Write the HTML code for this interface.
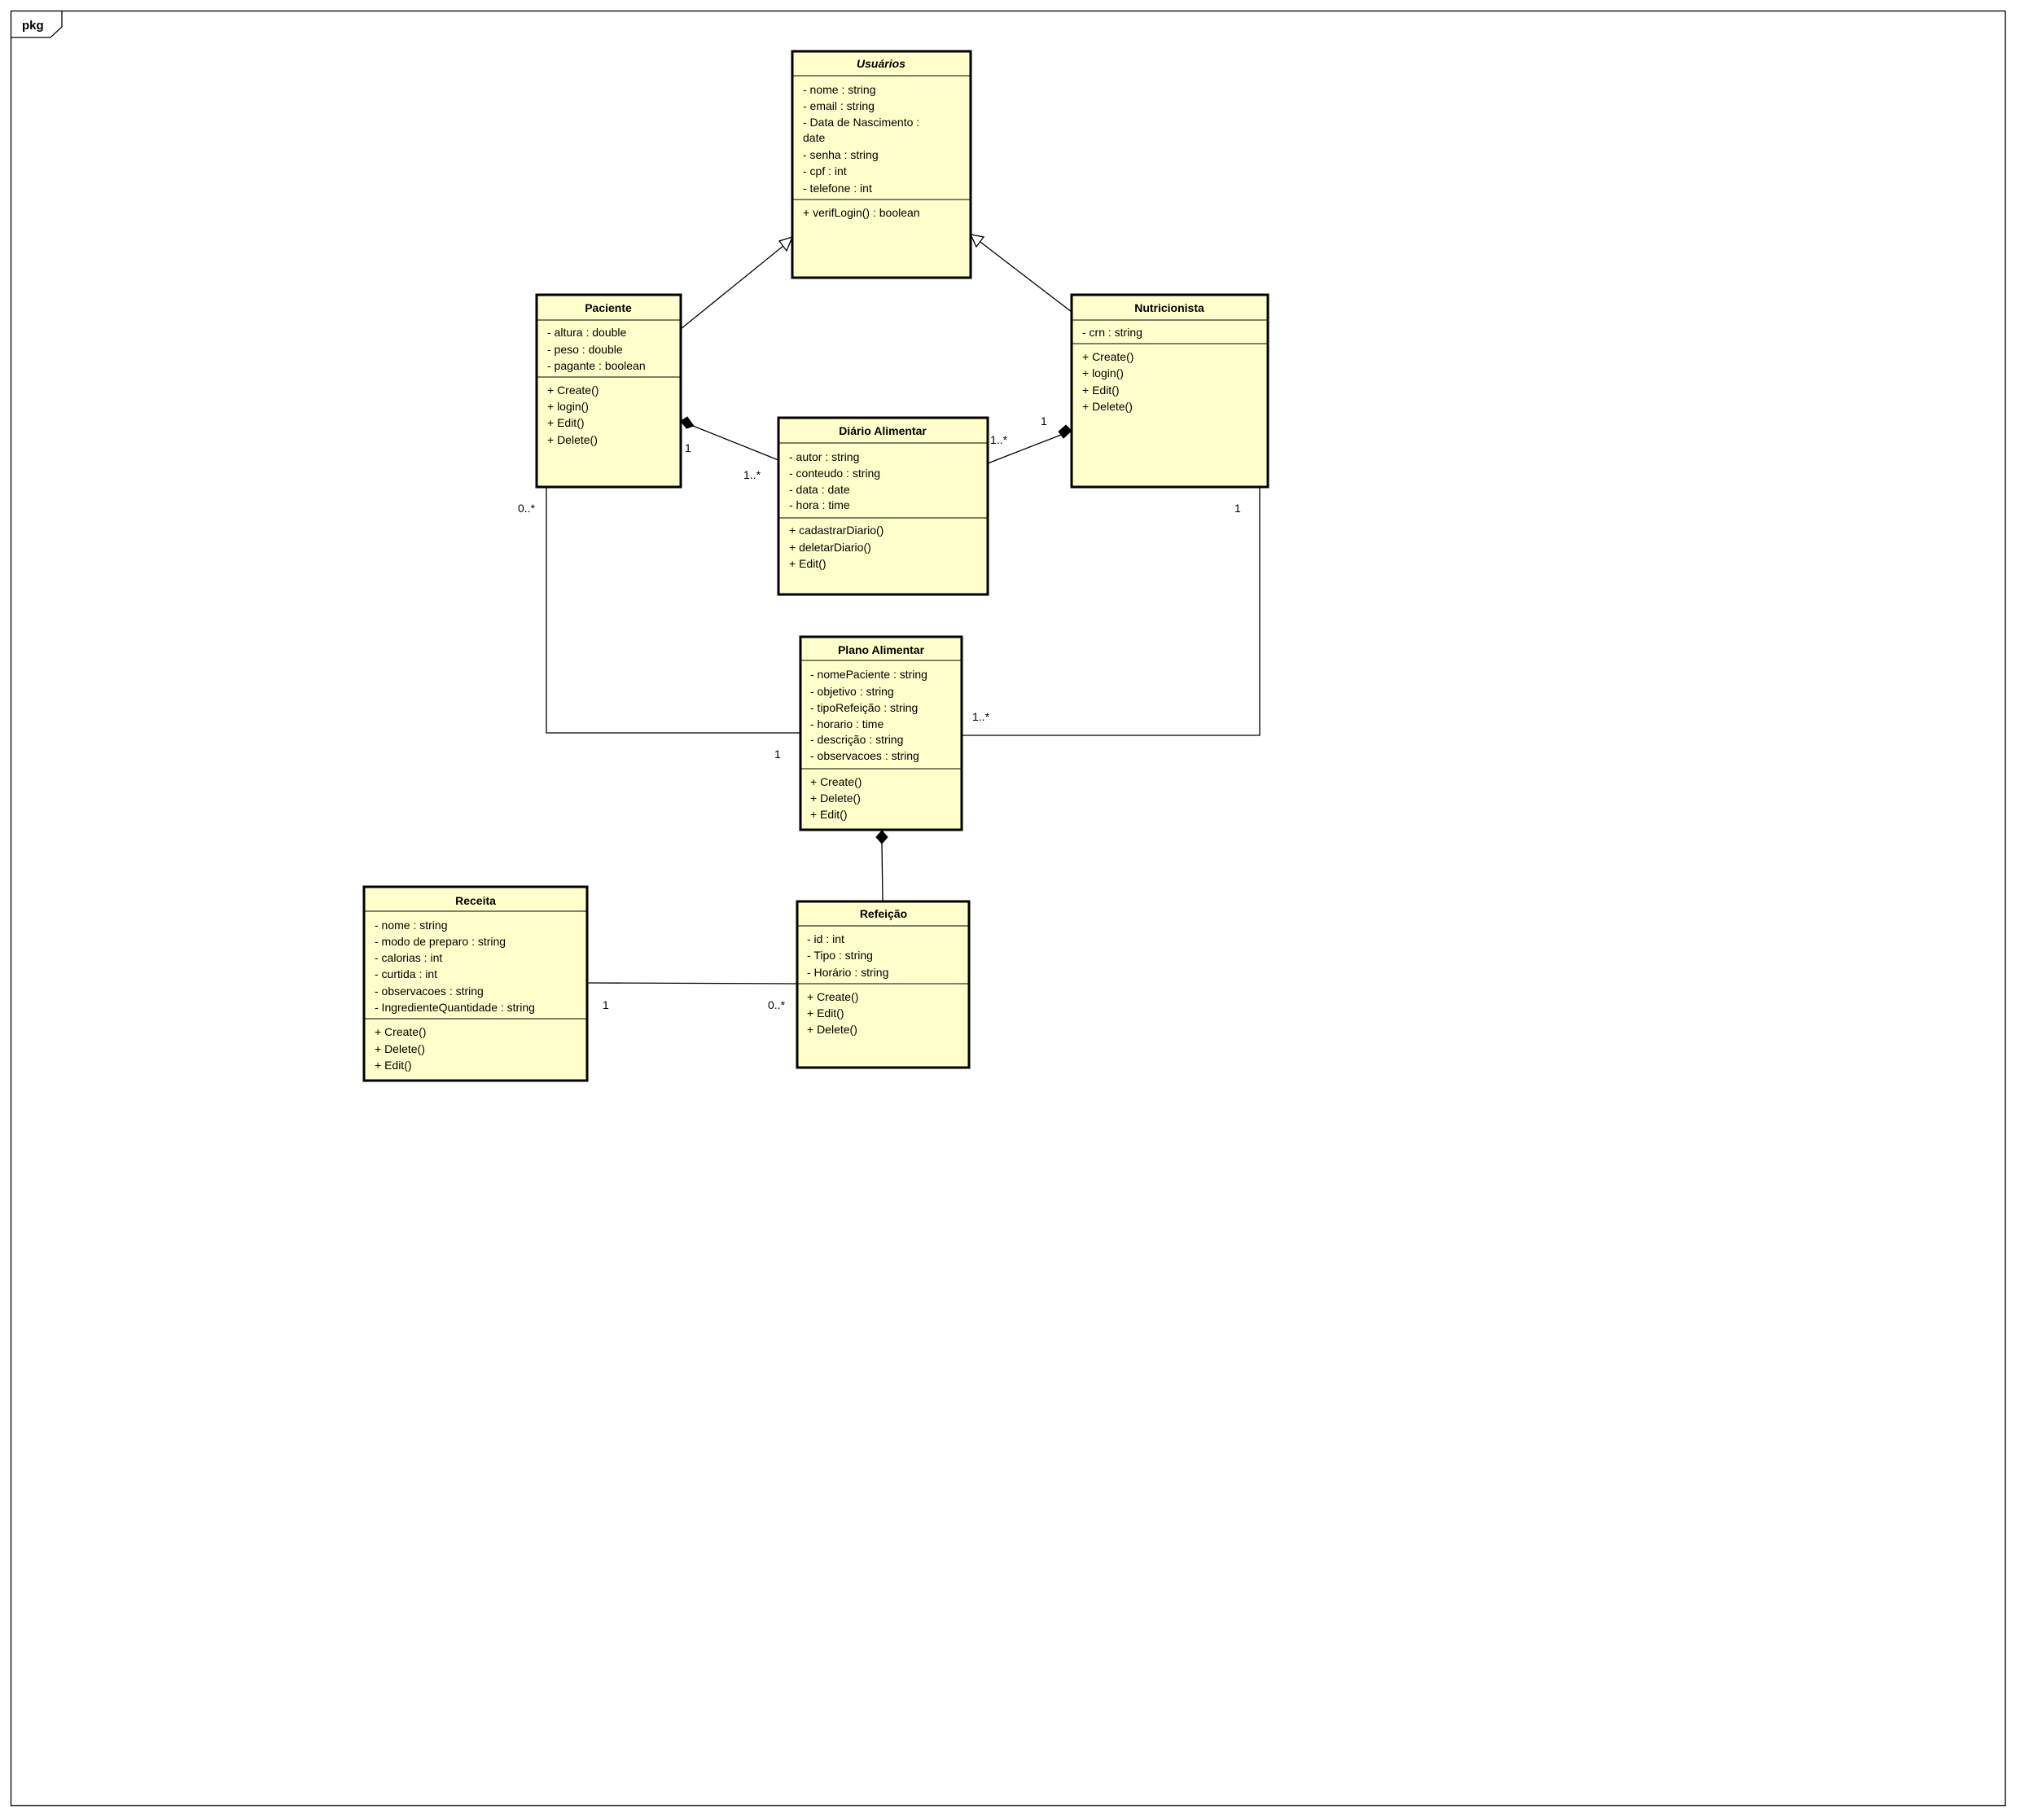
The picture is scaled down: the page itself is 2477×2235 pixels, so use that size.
<!DOCTYPE html>
<html><head><meta charset="utf-8"><style>
html,body{margin:0;padding:0;background:#fff;}
svg text{font-family:"Liberation Sans",Arial,sans-serif;font-size:14px;fill:#000;}
.t{font-weight:bold;text-anchor:middle;}
.b{fill:#ffffcc;stroke:#000;stroke-width:3;}
.s{stroke:#000;stroke-width:1;}
.l{stroke:#000;stroke-width:1.3;fill:none;}
</style></head><body>
<svg width="2477" height="2230" viewBox="0 0 2477 2230" xmlns="http://www.w3.org/2000/svg">
<rect x="0" y="0" width="2477" height="2230" fill="#fff"/>
<rect x="13.5" y="13.5" width="2449" height="2204" fill="none" stroke="#000" stroke-width="1.3"/>
<path d="M13.5 46 L62 46 L76 33 L76 13.5" fill="none" stroke="#000" stroke-width="1.3"/>
<text x="27" y="36" style="font-weight:bold;font-size:15px">pkg</text>

<!-- connectors -->
<line class="l" x1="836" y1="404" x2="973" y2="293"/>
<polygon points="973,291 957,296 966,308" fill="#fff" stroke="#000" stroke-width="1.3"/>
<line class="l" x1="1316" y1="383" x2="1192" y2="288"/>
<polygon points="1192,288 1199,303 1208,291" fill="#fff" stroke="#000" stroke-width="1.3"/>

<line class="l" x1="836" y1="517" x2="956" y2="565"/>
<polygon points="836,517 844,512 852,523 843,526" fill="#000" stroke="#000"/>
<text x="841" y="555">1</text>
<text x="913" y="588">1..*</text>

<line class="l" x1="1213" y1="569" x2="1316" y2="529"/>
<polygon points="1316,529 1309,522 1300,530 1306,538" fill="#000" stroke="#000"/>
<text x="1216" y="545">1..*</text>
<text x="1278" y="522">1</text>

<polyline class="l" points="671,598 671,900 983,900"/>
<text x="636" y="629">0..*</text>
<text x="951" y="931">1</text>
<polyline class="l" points="1547,598 1547,903 1181,903"/>
<text x="1516" y="629">1</text>
<text x="1194" y="885">1..*</text>

<line class="l" x1="1083" y1="1036" x2="1084" y2="1107"/>
<polygon points="1083,1020 1090,1028 1083,1036 1076,1028" fill="#000" stroke="#000"/>

<line class="l" x1="721" y1="1207" x2="979" y2="1208"/>
<text x="740" y="1239">1</text>
<text x="943" y="1239">0..*</text>

<!-- Usuarios -->
<rect class="b" x="973" y="63" width="219" height="278"/>
<line class="s" x1="973" y1="93" x2="1192" y2="93"/>
<line class="s" x1="973" y1="245" x2="1192" y2="245"/>
<text class="t" x="1082" y="83" style="font-style:italic">Usuários</text>
<text x="986" y="115">- nome : string</text>
<text x="986" y="135">- email : string</text>
<text x="986" y="155">- Data de Nascimento :</text>
<text x="986" y="174">date</text>
<text x="986" y="195">- senha : string</text>
<text x="986" y="215">- cpf : int</text>
<text x="986" y="236">- telefone : int</text>
<text x="986" y="266">+ verifLogin() : boolean</text>

<!-- Paciente -->
<rect class="b" x="659" y="362" width="177" height="236"/>
<line class="s" x1="659" y1="393" x2="836" y2="393"/>
<line class="s" x1="659" y1="463" x2="836" y2="463"/>
<text class="t" x="747" y="383">Paciente</text>
<text x="672" y="413">- altura : double</text>
<text x="672" y="434">- peso : double</text>
<text x="672" y="454">- pagante : boolean</text>
<text x="672" y="484">+ Create()</text>
<text x="672" y="504">+ login()</text>
<text x="672" y="524">+ Edit()</text>
<text x="672" y="545">+ Delete()</text>

<!-- Nutricionista -->
<rect class="b" x="1316" y="362" width="241" height="236"/>
<line class="s" x1="1316" y1="393" x2="1557" y2="393"/>
<line class="s" x1="1316" y1="422" x2="1557" y2="422"/>
<text class="t" x="1436" y="383">Nutricionista</text>
<text x="1329" y="413">- crn : string</text>
<text x="1329" y="443">+ Create()</text>
<text x="1329" y="463">+ login()</text>
<text x="1329" y="484">+ Edit()</text>
<text x="1329" y="504">+ Delete()</text>

<!-- Diario -->
<rect class="b" x="956" y="513" width="257" height="217"/>
<line class="s" x1="956" y1="544" x2="1213" y2="544"/>
<line class="s" x1="956" y1="636" x2="1213" y2="636"/>
<text class="t" x="1084" y="534">Diário Alimentar</text>
<text x="969" y="566">- autor : string</text>
<text x="969" y="586">- conteudo : string</text>
<text x="969" y="606">- data : date</text>
<text x="969" y="625">- hora : time</text>
<text x="969" y="656">+ cadastrarDiario()</text>
<text x="969" y="677">+ deletarDiario()</text>
<text x="969" y="697">+ Edit()</text>

<!-- Plano -->
<rect class="b" x="983" y="782" width="198" height="237"/>
<line class="s" x1="983" y1="811" x2="1181" y2="811"/>
<line class="s" x1="983" y1="944" x2="1181" y2="944"/>
<text class="t" x="1082" y="803">Plano Alimentar</text>
<text x="995" y="833">- nomePaciente : string</text>
<text x="995" y="854">- objetivo : string</text>
<text x="995" y="874">- tipoRefeição : string</text>
<text x="995" y="894">- horario : time</text>
<text x="995" y="913">- descrição : string</text>
<text x="995" y="933">- observacoes : string</text>
<text x="995" y="965">+ Create()</text>
<text x="995" y="985">+ Delete()</text>
<text x="995" y="1005">+ Edit()</text>

<!-- Receita -->
<rect class="b" x="447" y="1089" width="274" height="238"/>
<line class="s" x1="447" y1="1119" x2="721" y2="1119"/>
<line class="s" x1="447" y1="1251" x2="721" y2="1251"/>
<text class="t" x="584" y="1111">Receita</text>
<text x="460" y="1141">- nome : string</text>
<text x="460" y="1161">- modo de preparo : string</text>
<text x="460" y="1181">- calorias : int</text>
<text x="460" y="1201">- curtida : int</text>
<text x="460" y="1222">- observacoes : string</text>
<text x="460" y="1242">- IngredienteQuantidade : string</text>
<text x="460" y="1272">+ Create()</text>
<text x="460" y="1293">+ Delete()</text>
<text x="460" y="1313">+ Edit()</text>

<!-- Refeicao -->
<rect class="b" x="979" y="1107" width="211" height="204"/>
<line class="s" x1="979" y1="1137" x2="1190" y2="1137"/>
<line class="s" x1="979" y1="1208" x2="1190" y2="1208"/>
<text class="t" x="1085" y="1127">Refeição</text>
<text x="991" y="1158">- id : int</text>
<text x="991" y="1178">- Tipo : string</text>
<text x="991" y="1199">- Horário : string</text>
<text x="991" y="1229">+ Create()</text>
<text x="991" y="1249">+ Edit()</text>
<text x="991" y="1269">+ Delete()</text>
</svg>
</body></html>
